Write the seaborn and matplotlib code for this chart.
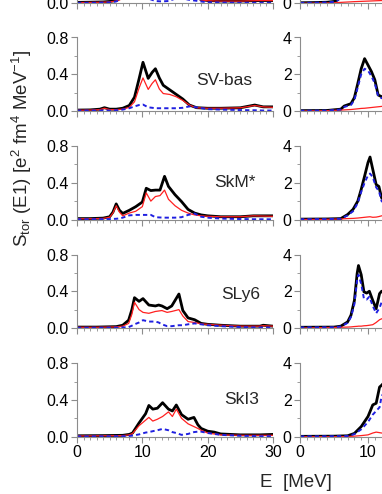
import matplotlib
matplotlib.use("Agg")
import matplotlib.pyplot as plt
import seaborn as sns
from matplotlib.ticker import MultipleLocator, FormatStrFormatter, FuncFormatter

sns.set_theme(style="ticks")
plt.rcParams["font.family"] = ["Liberation Sans", "DejaVu Sans"]
plt.rcParams["mathtext.fontset"] = "custom"
plt.rcParams["mathtext.rm"] = "Liberation Sans"
plt.rcParams["mathtext.it"] = "Liberation Sans:italic"

black = "#000000"
red = "#FF2020"
blue = "#1F1FE0"
grey = "#8C8C8C"

# panel names, top row is cut off in the picture
names = ["", "SV-bas", "SkM*", "SLy6", "SkI3"]

# ---- left column (0-30 MeV, 0-0.8) ----
E_l0 = [0, 2, 4, 5, 6, 7, 8, 9, 10, 11, 12, 13, 14, 15, 16, 17, 18, 19, 20, 22, 25, 28, 30]
tot_l0 = [0.01, 0.012, 0.015, 0.02, 0.03, 0.07, 0.15, 0.3, 0.4, 0.4, 0.35, 0.3, 0.3, 0.3, 0.25, 0.15, 0.08, 0.04, 0.03, 0.025, 0.025, 0.03, 0.03]
red_l0 = [0.008, 0.01, 0.012, 0.015, 0.025, 0.05, 0.1, 0.2, 0.3, 0.3, 0.28, 0.25, 0.25, 0.22, 0.18, 0.1, 0.06, 0.035, 0.028, 0.024, 0.024, 0.03, 0.03]
blue_l0 = [0.005, 0.005, 0.008, 0.01, 0.02, 0.06, 0.08, 0.09, 0.07, 0.05, 0.025, 0.02, 0.025, 0.05, 0.06, 0.04, 0.03, 0.02, 0.01, 0.008, 0.005, 0.005, 0.005]

E_l1 = [0, 2, 3.5, 4.2, 5, 6, 7, 8, 8.8, 9.5, 10.1, 10.9, 11.5, 12.0, 12.6, 13.2, 14.2, 15.2, 16.2, 17.2, 18.3, 20, 22, 25, 27.2, 28.5, 30]
tot_l1 = [0.01, 0.012, 0.02, 0.036, 0.02, 0.02, 0.03, 0.06, 0.15, 0.35, 0.53, 0.355, 0.42, 0.46, 0.36, 0.28, 0.23, 0.18, 0.13, 0.065, 0.036, 0.03, 0.03, 0.035, 0.065, 0.045, 0.045]
red_l1 = [0.008, 0.01, 0.015, 0.03, 0.015, 0.015, 0.02, 0.04, 0.1, 0.25, 0.36, 0.235, 0.3, 0.34, 0.24, 0.19, 0.18, 0.155, 0.115, 0.065, 0.035, 0.03, 0.03, 0.035, 0.06, 0.045, 0.04]
blue_l1 = [0.005, 0.005, 0.005, 0.005, 0.005, 0.008, 0.015, 0.03, 0.05, 0.065, 0.07, 0.04, 0.035, 0.03, 0.03, 0.03, 0.03, 0.03, 0.035, 0.05, 0.04, 0.02, 0.015, 0.01, 0.008, 0.005, 0.005]

E_l2 = [0, 2, 4, 5, 5.5, 6.0, 6.5, 7.0, 8, 9, 10, 10.6, 11.3, 12, 12.7, 13.4, 14, 15, 16, 17, 18, 19, 20, 22, 25, 27, 30]
tot_l2 = [0.01, 0.01, 0.015, 0.03, 0.08, 0.17, 0.1, 0.066, 0.1, 0.14, 0.19, 0.34, 0.315, 0.32, 0.32, 0.47, 0.36, 0.27, 0.195, 0.11, 0.07, 0.05, 0.04, 0.03, 0.03, 0.04, 0.04]
red_l2 = [0.008, 0.008, 0.012, 0.025, 0.07, 0.15, 0.08, 0.04, 0.07, 0.09, 0.14, 0.29, 0.2, 0.25, 0.26, 0.32, 0.22, 0.15, 0.1, 0.07, 0.05, 0.04, 0.035, 0.03, 0.03, 0.04, 0.035]
blue_l2 = [0.003, 0.003, 0.004, 0.005, 0.006, 0.008, 0.012, 0.02, 0.045, 0.05, 0.05, 0.05, 0.05, 0.025, 0.022, 0.02, 0.02, 0.02, 0.025, 0.05, 0.065, 0.03, 0.02, 0.01, 0.005, 0.003, 0.002]

E_l3 = [0, 3, 6, 7, 7.9, 8.4, 8.8, 9.5, 10.1, 11, 12, 12.5, 13, 13.8, 14.5, 15.6, 16.2, 17, 18, 19, 20, 22, 25, 28, 28.5, 30]
tot_l3 = [0.01, 0.01, 0.015, 0.03, 0.085, 0.2, 0.33, 0.29, 0.32, 0.25, 0.24, 0.25, 0.24, 0.21, 0.24, 0.37, 0.19, 0.11, 0.09, 0.05, 0.04, 0.03, 0.02, 0.02, 0.03, 0.02]
red_l3 = [0.008, 0.008, 0.012, 0.02, 0.05, 0.15, 0.28, 0.2, 0.17, 0.16, 0.18, 0.185, 0.19, 0.17, 0.18, 0.2, 0.13, 0.07, 0.06, 0.045, 0.04, 0.03, 0.02, 0.02, 0.025, 0.02]
blue_l3 = [0.003, 0.003, 0.004, 0.006, 0.01, 0.025, 0.04, 0.06, 0.085, 0.07, 0.07, 0.06, 0.04, 0.02, 0.02, 0.03, 0.03, 0.04, 0.05, 0.04, 0.03, 0.02, 0.01, 0.005, 0.005, 0.005]

E_l4 = [0, 4, 7, 8, 8.5, 9.5, 10.5, 11, 11.6, 12.3, 13.1, 14, 14.6, 15.2, 16, 17, 17.9, 18.5, 19, 20, 21, 22, 25, 28, 30]
tot_l4 = [0.01, 0.012, 0.015, 0.025, 0.04, 0.15, 0.25, 0.34, 0.3, 0.31, 0.37, 0.3, 0.28, 0.345, 0.24, 0.19, 0.21, 0.13, 0.09, 0.06, 0.05, 0.03, 0.02, 0.02, 0.025]
red_l4 = [0.008, 0.01, 0.012, 0.02, 0.035, 0.12, 0.18, 0.21, 0.17, 0.19, 0.22, 0.27, 0.22, 0.3, 0.2, 0.14, 0.11, 0.09, 0.07, 0.04, 0.03, 0.02, 0.015, 0.015, 0.015]
blue_l4 = [0.003, 0.004, 0.005, 0.008, 0.012, 0.025, 0.045, 0.05, 0.06, 0.07, 0.085, 0.07, 0.05, 0.04, 0.02, 0.03, 0.05, 0.055, 0.055, 0.04, 0.03, 0.02, 0.01, 0.005, 0.005]

# ---- right column (0-4), only its low-energy part is in the picture ----
E_r0 = [0, 2, 4, 5, 5.5, 6, 7, 8, 10, 12, 13]
tot_r0 = [0.03, 0.04, 0.06, 0.1, 0.18, 0.35, 1.0, 2.0, 3.0, 2.0, 1.5]
red_r0 = [0, 0.01, 0.02, 0.03, 0.04, 0.05, 0.07, 0.09, 0.12, 0.15, 0.16]
blue_r0 = [0.02, 0.03, 0.05, 0.08, 0.15, 0.3, 0.9, 1.8, 2.7, 1.8, 1.3]

E_r1 = [0, 4, 6, 6.5, 7.5, 8, 8.5, 9, 9.5, 10, 10.5, 11, 11.5, 12, 13]
tot_r1 = [0.02, 0.03, 0.1, 0.27, 0.4, 0.73, 1.5, 2.3, 2.85, 2.5, 2.15, 1.7, 0.87, 0.78, 0.75]
red_r1 = [0, 0.02, 0.05, 0.06, 0.08, 0.1, 0.12, 0.14, 0.15, 0.17, 0.19, 0.21, 0.23, 0.25, 0.28]
blue_r1 = [0.015, 0.025, 0.08, 0.22, 0.33, 0.6, 1.3, 2.0, 2.3, 2.2, 1.9, 1.5, 0.8, 0.7, 0.65]

E_r2 = [0, 4, 6, 7, 7.8, 8.5, 9, 9.5, 10, 10.3, 10.7, 11.2, 11.6, 12, 13]
tot_r2 = [0.02, 0.03, 0.05, 0.27, 0.55, 1.0, 1.64, 2.36, 3.1, 3.4, 2.73, 1.9, 1.8, 1.18, 0.8]
red_r2 = [0, 0.01, 0.03, 0.05, 0.06, 0.08, 0.1, 0.12, 0.14, 0.15, 0.12, 0.13, 0.16, 0.2, 0.25]
blue_r2 = [0.015, 0.025, 0.04, 0.22, 0.45, 0.9, 1.5, 2.0, 2.4, 2.5, 2.3, 1.75, 1.55, 1.0, 0.7]

E_r3 = [0, 5, 6, 7, 7.5, 8, 8.4, 8.6, 9, 9.4, 9.8, 10.2, 10.7, 11.2, 11.7, 12, 13]
tot_r3 = [0.04, 0.05, 0.1, 0.33, 0.7, 1.5, 2.96, 3.4, 2.9, 1.97, 1.9, 2.0, 1.5, 1.05, 1.87, 2.0, 2.0]
red_r3 = [0, 0.03, 0.04, 0.05, 0.06, 0.08, 0.09, 0.1, 0.1, 0.12, 0.13, 0.15, 0.18, 0.3, 0.45, 0.5, 0.6]
blue_r3 = [0.03, 0.04, 0.08, 0.28, 0.6, 1.3, 2.6, 2.9, 2.4, 1.6, 1.55, 1.7, 1.2, 0.8, 1.1, 1.4, 1.5]

E_r4 = [0, 5, 7, 8, 9, 10, 10.7, 11.2, 11.7, 12, 13]
tot_r4 = [0.02, 0.03, 0.05, 0.18, 0.55, 1.1, 1.73, 1.82, 2.7, 2.8, 3.2]
red_r4 = [0, 0, 0.01, 0.03, 0.06, 0.1, 0.2, 0.25, 0.22, 0.2, 0.18]
blue_r4 = [0.015, 0.025, 0.04, 0.14, 0.4, 0.8, 1.2, 1.4, 1.6, 2.2, 2.8]

left = [(E_l0, tot_l0, red_l0, blue_l0), (E_l1, tot_l1, red_l1, blue_l1),
        (E_l2, tot_l2, red_l2, blue_l2), (E_l3, tot_l3, red_l3, blue_l3),
        (E_l4, tot_l4, red_l4, blue_l4)]
right = [(E_r0, tot_r0, red_r0, blue_r0), (E_r1, tot_r1, red_r1, blue_r1),
         (E_r2, tot_r2, red_r2, blue_r2), (E_r3, tot_r3, red_r3, blue_r3),
         (E_r4, tot_r4, red_r4, blue_r4)]

# where the panel names sit (data coords)
label_pos = [(0, 0), (18.3, 0.335), (21.0, 0.40), (22.0, 0.36), (22.5, 0.405)]

W, H = 382, 494
fig = plt.figure(figsize=(W / 100, H / 100), dpi=100)

row_bottom_px = [3.3, 111, 219.5, 328, 436.7]
row_h_px = 73.5


def style_axis(ax, ymax, ymajor, yminor, yfmt, show_x, only_zero=False):
    ax.set_xlim(0, 30)
    ax.set_ylim(0, ymax)
    ax.xaxis.set_major_locator(MultipleLocator(10))
    ax.xaxis.set_minor_locator(MultipleLocator(1))
    ax.yaxis.set_major_locator(MultipleLocator(ymajor))
    ax.yaxis.set_minor_locator(MultipleLocator(yminor))
    if only_zero:
        # top row sits mostly above the picture, only its zero label shows
        ax.yaxis.set_major_formatter(FuncFormatter(lambda v, p: (yfmt % v) if abs(v) < 1e-9 else ""))
    else:
        ax.yaxis.set_major_formatter(FormatStrFormatter(yfmt))
    for s in ["top", "right"]:
        ax.spines[s].set_visible(False)
    for s in ["left", "bottom"]:
        ax.spines[s].set_color(grey)
        ax.spines[s].set_linewidth(0.8)
    ax.tick_params(which="major", direction="out", length=4, width=0.8, color=grey,
                   labelsize=11.5, pad=2, labelcolor="black")
    ax.tick_params(which="minor", direction="out", length=2, width=0.6, color=grey)
    if not show_x:
        ax.tick_params(axis="x", labelbottom=False)
    ax.set_xlabel("")
    ax.set_ylabel("")


def draw(ax, E, tot, rr, bb):
    sns.lineplot(x=E, y=tot, ax=ax, color=black, lw=2.0)
    sns.lineplot(x=E, y=rr, ax=ax, color=red, lw=0.9)
    sns.lineplot(x=E, y=bb, ax=ax, color=blue, lw=1.4, linestyle=(0, (2.2, 1.6)))


for i in range(5):
    b = 1 - row_bottom_px[i] / H
    h = row_h_px / H
    axl = fig.add_axes([77 / W, b, 196 / W, h])
    E, tot, rr, bb = left[i]
    draw(axl, E, tot, rr, bb)
    style_axis(axl, 0.8, 0.4, 0.2, "%.1f", i == 4, i == 0)
    if names[i]:
        axl.text(label_pos[i][0], label_pos[i][1], names[i], fontsize=12.5, va="center", ha="left")

    axr = fig.add_axes([300 / W, b, 204 / W, h])
    E, tot, rr, bb = right[i]
    draw(axr, E, tot, rr, bb)
    style_axis(axr, 4, 2, 1, "%d", i == 4, i == 0)

fig.text(22 / W, 1 - 148 / H,
         r"S$_{\rm tor}$ (E1) [e$^2$ fm$^4$ MeV$^{-1}$]",
         rotation=90, fontsize=13.5, ha="center", va="center")
fig.text(260 / W, 1 - 482 / H, "E  [MeV]", fontsize=13.5, ha="left", va="center")

fig.savefig("out.png", dpi=100)
